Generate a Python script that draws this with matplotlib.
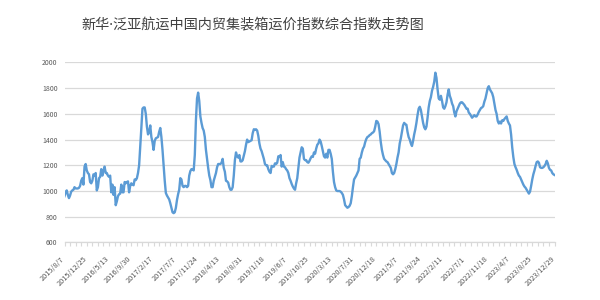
import matplotlib
matplotlib.use("Agg")
import matplotlib.pyplot as plt
import matplotlib.transforms as mtransforms
import numpy as np

plt.rcParams['font.family'] = ['Noto Sans CJK SC', 'DejaVu Sans']

title = "新华·泛亚航运中国内贸集装箱运价指数综合指数走势图"

# 周度综合指数
index_values = [
    960, 990, 1005, 970, 945, 965, 995, 1005, 1010, 1030,
    1020, 1020, 1020, 1025, 1040, 1080, 1100, 1050, 1190, 1210,
    1160, 1140, 1130, 1070, 1060, 1080, 1130, 1120, 1140, 1005,
    1030, 1100, 1110, 1170, 1120, 1160, 1190, 1140, 1140, 1120,
    1110, 1120, 990, 1050, 970, 1030, 890, 920, 960, 975,
    980, 1050, 990, 990, 1070, 1060, 1070, 1075, 990, 1040,
    1060, 1050, 1045, 1090, 1085, 1100, 1140, 1200, 1340, 1490,
    1640, 1650, 1650, 1600, 1500, 1440, 1460, 1510, 1420, 1380,
    1320, 1390, 1410, 1415, 1420, 1460, 1490, 1420, 1320, 1200,
    1080, 985, 965, 950, 935, 905, 870, 835, 828, 835,
    870, 930, 975, 1010, 1100, 1090, 1040, 1030, 1040, 1040,
    1030, 1040, 1120, 1155, 1170, 1170, 1160, 1280, 1550, 1720,
    1765, 1700, 1580, 1530, 1490, 1470, 1420, 1320, 1250, 1180,
    1120, 1085, 1030, 1030, 1080, 1110, 1140, 1185, 1210, 1210,
    1210, 1220, 1250, 1180, 1150, 1080, 1075, 1065, 1030, 1010,
    1010, 1030, 1120, 1240, 1300, 1270, 1260, 1280, 1230, 1230,
    1240, 1275, 1310, 1360, 1400, 1380, 1385, 1390, 1395, 1450,
    1480, 1475, 1480, 1470, 1430, 1370, 1330, 1310, 1280, 1250,
    1210, 1200, 1200, 1170, 1150, 1140, 1195, 1190, 1190, 1215,
    1210, 1220, 1270, 1265, 1280, 1190, 1225, 1190, 1185, 1170,
    1160, 1140, 1100, 1080, 1055, 1035, 1020, 1010, 1060, 1100,
    1180, 1260, 1300, 1340, 1330, 1250, 1240, 1240, 1225, 1220,
    1235, 1255, 1270, 1265, 1300, 1290, 1330, 1360, 1370, 1400,
    1385, 1350, 1310, 1270, 1260, 1290, 1260, 1320, 1320, 1290,
    1250, 1150, 1070, 1030, 1005, 1000, 1000, 1000, 995, 985,
    970, 935, 890, 880, 870, 875, 885, 905, 960, 1030,
    1090, 1105, 1120, 1140, 1160, 1250, 1260, 1300, 1330, 1345,
    1380, 1405, 1420, 1425, 1435, 1440, 1450, 1455, 1465, 1500,
    1545, 1540, 1520, 1460, 1380, 1320, 1280, 1250, 1240, 1230,
    1225, 1210, 1195, 1180, 1140, 1130, 1140, 1170, 1210, 1260,
    1300, 1370, 1410, 1460, 1510, 1530, 1520, 1515, 1460, 1420,
    1400, 1370, 1350, 1390, 1440, 1480, 1530, 1590, 1640, 1655,
    1630, 1580, 1530, 1495, 1480, 1500, 1570, 1650, 1700, 1730,
    1780, 1810, 1850, 1920, 1880, 1790, 1720, 1710, 1740, 1700,
    1650, 1640, 1660, 1690, 1750, 1790, 1740, 1715, 1680, 1660,
    1610, 1580, 1620, 1640, 1660, 1680, 1690, 1690, 1680, 1670,
    1655, 1640, 1640, 1610, 1600, 1585, 1570, 1580, 1590, 1580,
    1580, 1595, 1615, 1630, 1645, 1650, 1660, 1695, 1720, 1760,
    1800, 1815, 1790, 1775, 1760, 1730, 1680, 1630, 1600, 1545,
    1525, 1540, 1525, 1550, 1545, 1560, 1570, 1580, 1545, 1525,
    1510, 1440, 1340, 1265, 1210, 1185, 1165, 1140, 1120, 1110,
    1090, 1070, 1050, 1035, 1025, 1010, 995, 980, 995, 1040,
    1090, 1130, 1160, 1195, 1225, 1230, 1220, 1185, 1180, 1180,
    1185, 1195, 1210, 1235, 1215, 1180, 1165, 1160, 1140, 1130,
    1125,
]

tick_labels = [
    "2015/8/7", "2015/12/25", "2016/5/13", "2016/9/30", "2017/2/17",
    "2017/7/7", "2017/11/24", "2018/4/13", "2018/8/31", "2019/1/18",
    "2019/6/7", "2019/10/25", "2020/3/13", "2020/7/31", "2020/12/18",
    "2021/5/7", "2021/9/24", "2022/2/11", "2022/7/1", "2022/11/18",
    "2023/4/7", "2023/8/25", "2023/12/29",
]
label_step = 20

fig = plt.figure(figsize=(6, 3), dpi=100)
ax = fig.add_axes([0.1075, 0.1917, 0.8167, 0.6003])

x = np.arange(len(index_values))
ax.plot(x, index_values, color='#5B9BD5', linewidth=1.7, solid_joinstyle='round')

ax.set_xlim(0, len(index_values) - 1)
ax.set_ylim(600, 2000)
ax.set_yticks(np.arange(600, 2001, 200))
ax.yaxis.grid(True, color='#D9D9D9', linewidth=0.9)
ax.set_axisbelow(True)

for side in ['top', 'right', 'left']:
    ax.spines[side].set_visible(False)
ax.spines['bottom'].set_color('#D9D9D9')
ax.spines['bottom'].set_linewidth(0.9)

ax.tick_params(axis='y', length=0, labelsize=5, labelcolor='#595959', pad=5)
ax.set_xticks(np.arange(0, len(index_values), 5), minor=True)
ax.set_xticks(np.arange(0, len(tick_labels) * label_step, label_step))
ax.set_xticklabels(tick_labels, rotation=45, ha='right', rotation_mode='anchor')
ax.tick_params(axis='x', which='both', length=3, color='#D9D9D9', width=0.8)
ax.tick_params(axis='x', labelsize=5.3, labelcolor='#595959', pad=6)
offset = mtransforms.ScaledTranslation(-4 / 100, 0, fig.dpi_scale_trans)
for lab in ax.get_xticklabels():
    lab.set_transform(lab.get_transform() + offset)

# 标题:中点用窄字形,汉字回落到CJK字体
fig.text(253 / 600, 1 - 26 / 300, title, ha='center', va='center',
         fontsize=10.2, color='#404040',
         family=['Noto Sans', 'Noto Sans CJK SC'])

fig.savefig("out.png", dpi=100)
